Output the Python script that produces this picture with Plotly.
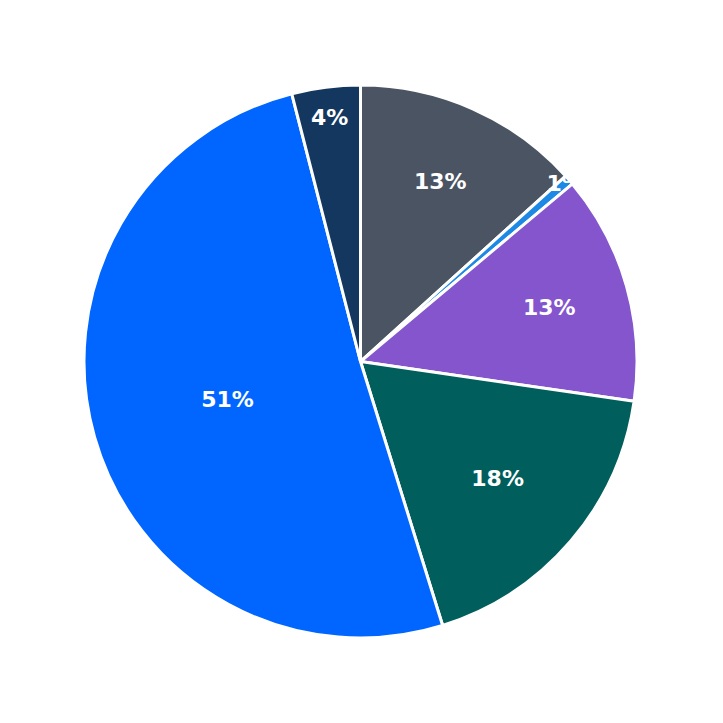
import plotly.graph_objects as go

labels = ["A", "B", "C", "D", "E", "F"]
values = [13.3, 0.6, 13.4, 17.9, 50.8, 4.0]
colors = ["#4a5462", "#1e88e5", "#8455cc", "#005f5c", "#0066ff", "#14375f"]

fig = go.Figure(go.Pie(
    labels=labels, values=values, sort=False, direction="clockwise", rotation=0,
    marker=dict(colors=colors, line=dict(color="white", width=3)),
    textinfo="percent", texttemplate="%{percent:.0%}", textposition="inside",
    insidetextorientation="horizontal",
    textfont=dict(color="white", size=22, family="DejaVu Sans", weight="bold"),
))
fig.update_layout(
    width=723, height=723, showlegend=False,
    margin=dict(l=76, r=94, t=77, b=93),
    paper_bgcolor="white", uniformtext=dict(minsize=20, mode="show"),
)
fig.write_html("out.html")
